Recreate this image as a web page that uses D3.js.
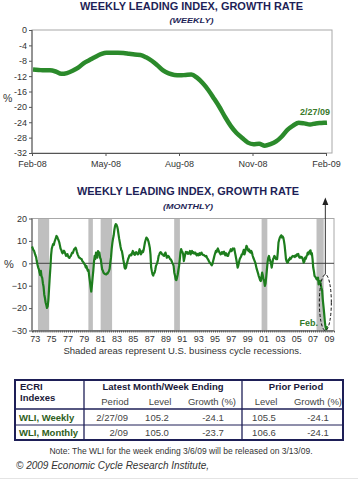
<!DOCTYPE html>
<html><head><meta charset="utf-8">
<script src="https://cdn.jsdelivr.net/npm/d3@7"></script>
<style>
html,body{margin:0;padding:0;background:#fff;}
svg{display:block;font-family:"Liberation Sans",Arial,sans-serif;}
</style></head>
<body>
<svg id="c" width="358" height="480"></svg>
<script>
// ---------- DATA ----------
const weeklyTickLabels = ["Feb-08","May-08","Aug-08","Nov-08","Feb-09"];
const weeklyTickIndex = [0,13,26,39,52];
const weeklyValues = [
 -10.3,-10.4,-10.5,-10.5,-10.8,-11.4,-11.2,-10.6,-9.8,-8.6,-7.8,-7.0,-6.3,
 -5.9,-5.9,-5.9,-6.0,-6.2,-6.4,-6.5,-7.1,-8.0,-9.2,-10.5,-11.3,-11.7,
 -11.8,-11.7,-11.6,-12.4,-13.8,-15.6,-17.8,-20.1,-22.7,-25.0,-26.8,-28.1,-29.3,
 -29.7,-29.6,-30.1,-29.7,-29.0,-27.7,-26.0,-24.9,-24.1,-24.3,-24.6,-24.3,-24.2,-24.1
];
const weeklyYTicks = [0,-4,-8,-12,-16,-20,-24,-28,-32];

const monthlyStart = 1973.1;
const monthlyValues = [
 7.5,6.8,5.9,5.6,4.5,3.6,2.8,1.0,-0.5,-1.8,-2.6,-4.0,           // 1973
 -5.2,-3.4,-5.8,-6.5,-8.9,-10.5,-13.9,-15.5,-17.5,-18.6,-19.9,-19.2, // 1974
 -16.5,-11.5,-6.5,-2.0,3.5,6.5,7.6,8.6,8.2,9.5,10.4,11.3,       // 1975
 12.2,11.8,11.0,10.3,9.4,8.0,6.5,6.0,4.9,4.5,5.2,5.6,           // 1976
 5.0,4.2,3.3,3.8,4.1,3.2,2.6,2.4,3.0,3.3,4.1,4.8,               // 1977
 4.6,5.5,6.3,6.5,7.0,6.2,5.0,4.0,3.3,2.6,2.5,2.2,               // 1978
 2.0,1.8,1.0,0.6,0.2,-0.4,-0.8,-1.9,-1.2,-2.5,-3.4,-3.0,        // 1979
 -5.7,-8.0,-10.5,-12.6,-10.0,-6.5,-3.4,0.5,3.3,2.0,4.8,3.5,     // 1980
 2.5,5.5,4.0,4.8,2.5,1.8,-0.5,-2.7,-3.2,-4.2,-4.5,-4.8,         // 1981
 -4.9,-5.0,-4.5,-4.6,-4.0,-3.4,-2.5,0.3,2.5,6.3,9.0,11.0,       // 1982
 12.5,15.0,16.7,17.5,17.3,16.5,15.2,13.0,11.0,9.3,7.5,6.0,      // 1983
 5.5,3.8,1.8,0.2,-1.9,-2.4,-2.0,-0.4,0.5,1.8,2.5,3.5,           // 1984
 3.5,4.0,3.6,4.5,5.5,4.8,4.0,3.8,4.8,5.0,4.4,4.0,               // 1985
 4.0,5.2,6.3,5.0,4.0,4.6,5.5,5.0,6.0,7.8,9.5,10.5,              // 1986
 11.5,11.2,10.7,9.8,8.5,7.0,4.0,-1.9,-3.5,-4.9,-5.5,-4.5,       // 1987
 -4.2,-3.0,-1.2,-0.5,0.3,1.5,3.3,4.0,4.8,5.0,4.6,4.0,           // 1988
 4.0,3.5,3.3,4.2,4.8,3.8,2.5,2.8,3.3,3.0,2.4,1.8,               // 1989
 1.8,1.0,0.3,-0.3,-1.2,-4.2,-5.5,-7.2,-7.5,-6.4,-5.0,-3.0,      // 1990
 -1.2,1.5,4.8,6.3,5.5,5.0,4.0,1.0,2.5,4.0,5.1,4.5,              // 1991
 5.0,4.2,4.8,4.5,5.5,4.0,5.0,5.5,4.6,5.0,4.3,4.8,               // 1992
 4.8,4.0,3.5,4.2,4.0,3.6,4.5,3.8,4.5,4.8,4.0,3.8,               // 1993
 3.8,3.5,3.3,3.0,3.3,2.5,2.0,1.5,0.8,0.3,0.0,-0.5,              // 1994
 -0.9,-0.3,1.0,2.2,3.5,4.5,5.5,5.0,6.0,6.6,5.8,5.0,             // 1995
 4.5,4.0,4.2,5.0,4.3,4.8,5.2,4.0,3.6,4.5,3.8,3.3,               // 1996
 3.3,4.5,5.0,5.6,6.3,5.4,6.0,6.6,6.2,6.6,5.0,3.5,               // 1997
 1.8,0.0,-1.9,-1.0,0.5,1.8,2.5,3.0,4.0,4.0,5.0,6.0,             // 1998
 4.0,5.0,6.5,7.8,7.2,6.0,5.5,6.2,5.0,4.8,5.5,4.8,               // 1999
 3.5,2.5,1.8,1.0,0.2,-1.2,-2.5,-3.5,-4.5,-5.7,-6.5,-7.5,        // 2000
 -7.9,-6.0,-4.2,-5.5,-7.2,-8.0,-10.1,-9.0,-6.0,-2.7,0.5,2.5,    // 2001
 3.3,2.0,1.0,0.0,-1.9,0.0,1.8,2.5,3.3,2.8,2.0,1.8,              // 2002
 1.8,5.0,9.3,10.5,11.5,12.0,12.5,11.5,12.0,11.5,10.0,8.0,       // 2003
 5.0,1.8,0.8,0.3,0.5,1.8,1.5,2.5,2.0,2.5,3.0,3.3,               // 2004
 3.0,3.3,2.8,3.5,3.2,4.0,3.5,4.2,3.0,2.5,3.0,2.5,               // 2005
 2.8,2.5,1.5,0.3,0.8,2.5,2.0,3.0,3.8,4.8,4.0,5.0,               // 2006
 5.5,5.8,4.0,4.5,2.0,-1.9,-3.5,-5.7,-6.0,-6.5,-7.2,-6.8,        // 2007
 -6.4,-9.4,-8.0,-7.9,-9.5,-10.9,-12.0,-16.1,-19.0,-22.1,-25.8,-28.5, // 2008
 -29.5,-28.0                                                    // 2009
];
const monthlyYTicks = [20,10,0,-10,-20,-30];
const yearLabels = ["73","75","77","79","81","83","85","87","89","91","93","95","97","99","01","03","05","07","09"];
const yearLabelYears = [1973,1975,1977,1979,1981,1983,1985,1987,1989,1991,1993,1995,1997,1999,2001,2003,2005,2007,2009];
const recessions = [[1973.83,1975.2],[1980.0,1980.55],[1981.5,1982.9],[1990.5,1991.2],[2001.2,2001.9],[2007.92,2008.8]];

const tableGroups = ["Latest Month/Week Ending","Prior Period"];
const tableSubHeads = ["Period","Level","Growth (%)","Level","Growth (%)"];
const tableRowNames = ["WLI, Weekly","WLI, Monthly"];
const tableRows = [
  ["2/27/09","105.2","-24.1","105.5","-24.1"],
  ["2/09","105.0","-23.7","106.6","-24.1"]
];

// ---------- DRAW ----------
const svg = d3.select("#c");
const navy = "#1e1f57";
const green1 = "#2b8a2b";
const green2 = "#1d7d1d";
const txt = "#333";

function title(y, t, sub, ys, cx, w, sw){
  svg.append("text").attr("x",cx).attr("y",y).attr("text-anchor","middle")
    .attr("font-size",10.5).attr("font-weight","bold").attr("fill",navy)
    .attr("textLength",w).attr("lengthAdjust","spacingAndGlyphs").text(t);
  svg.append("text").attr("x",cx).attr("y",ys).attr("text-anchor","middle")
    .attr("font-size",8).attr("font-weight","bold").attr("font-style","italic").attr("fill",navy)
    .attr("textLength",sw).attr("lengthAdjust","spacingAndGlyphs").text(sub);
}

// Top chart
title(9.5,"WEEKLY LEADING INDEX, GROWTH RATE","(WEEKLY)",22.5,191.5,223,44);
const x1 = d3.scaleLinear().domain([0,52]).range([32,326]);
const y1 = d3.scaleLinear().domain([-32,0]).range([153,30]);
const g1 = svg.append("g");
g1.append("rect").attr("x",32).attr("y",30).attr("width",300).attr("height",123)
  .attr("fill","none").attr("stroke","#a8a8a8").attr("stroke-width",1);
const ya1 = g1.append("g").attr("transform","translate(32,0)")
  .call(d3.axisLeft(y1).tickValues(weeklyYTicks).tickSize(3).tickPadding(2).tickFormat(d=>d===0?"0":"-"+Math.abs(d)));
const xa1 = g1.append("g").attr("transform","translate(0,153)")
  .call(d3.axisBottom(x1).tickValues(weeklyTickIndex).tickSize(3).tickPadding(5).tickFormat((d,i)=>weeklyTickLabels[i]));
[ya1,xa1].forEach(a=>{
  a.select(".domain").attr("stroke","#555");
  a.selectAll(".tick line").attr("stroke","#555");
  a.selectAll("text").attr("font-size",9).attr("fill",txt).attr("font-family","Liberation Sans, Arial, sans-serif");
});
ya1.selectAll(".domain").attr("d","M0,30V153");
g1.append("text").attr("x",3).attr("y",102).attr("font-size",10.5).attr("fill",txt).text("%");
g1.append("path").datum(weeklyValues)
  .attr("d",d3.line().x((d,i)=>x1(i)+1).y(d=>y1(d)).curve(d3.curveMonotoneX))
  .attr("fill","none").attr("stroke",green1).attr("stroke-width",4.5).attr("stroke-linejoin","round");
g1.append("text").attr("x",330).attr("y",115).attr("text-anchor","end").attr("font-size",9)
  .attr("font-weight","bold").attr("fill","#3a7a2a").text("2/27/09");

// Bottom chart
title(195,"WEEKLY LEADING INDEX, GROWTH RATE","(MONTHLY)",208.5,188,222,50);
const x2 = d3.scaleLinear().domain([monthlyStart,2010.06]).range([32,334]);
const y2 = d3.scaleLinear().domain([-30,20]).range([330.5,218.5]);
const g2 = svg.append("g");
g2.selectAll("rect.rec").data(recessions).enter().append("rect")
  .attr("x",d=>x2(d[0])).attr("width",d=>x2(d[1])-x2(d[0]))
  .attr("y",y2(20)).attr("height",y2(-30)-y2(20)).attr("fill","#bfbfbf");
g2.append("rect").attr("x",32).attr("y",218.5).attr("width",302).attr("height",112)
  .attr("fill","none").attr("stroke","#a8a8a8");
g2.append("line").attr("x1",32).attr("x2",334).attr("y1",y2(0)).attr("y2",y2(0))
  .attr("stroke","#444").attr("stroke-width",1);
const ya2 = g2.append("g").attr("transform","translate(32,0)")
  .call(d3.axisLeft(y2).tickValues(monthlyYTicks).tickSize(3).tickPadding(2));
const minor = d3.range(1973.25,2010,0.25);
const xa2 = g2.append("g").attr("transform","translate(0,330.5)")
  .call(d3.axisBottom(x2).tickValues(minor).tickSize(2).tickFormat(""));
[ya2,xa2].forEach(a=>{
  a.select(".domain").attr("stroke","#555");
  a.selectAll(".tick line").attr("stroke","#555");
  a.selectAll("text").attr("font-size",9).attr("fill",txt).attr("font-family","Liberation Sans, Arial, sans-serif");
});
ya2.selectAll(".domain").attr("d","M0,218.5V330.5");
g2.selectAll("text.yl").data(yearLabels).enter().append("text")
  .attr("x",(d,i)=>x2(yearLabelYears[i]+0.5)).attr("y",342).attr("text-anchor","middle")
  .attr("font-size",9).attr("fill",txt).text(d=>d);
g2.append("text").attr("x",4).attr("y",268).attr("font-size",11).attr("fill",txt).text("%");
g2.append("path").datum(monthlyValues)
  .attr("d",d3.line().x((d,i)=>x2(monthlyStart+i/12)).y(d=>y2(d)))
  .attr("fill","none").attr("stroke",green2).attr("stroke-width",2.2).attr("stroke-linejoin","round");
g2.append("text").attr("x",318).attr("y",326).attr("text-anchor","end").attr("font-size",9)
  .attr("font-weight","bold").attr("fill","#2f7a2a").text("Feb.");
// ellipse + arrow
const ex = x2(2009.0);
g2.append("ellipse").attr("cx",ex).attr("cy",y2(-17.5)).attr("rx",6).attr("ry",28)
  .attr("fill","none").attr("stroke","#111").attr("stroke-width",1).attr("stroke-dasharray","3,2");
g2.append("line").attr("x1",ex).attr("x2",ex).attr("y1",203).attr("y2",y2(-17.5)-28)
  .attr("stroke","#333").attr("stroke-width",1);
g2.append("path").attr("d",`M${ex},197.5L${ex-3},205L${ex+3},205Z`).attr("fill","#222");
svg.append("text").attr("x",182.5).attr("y",353.5).attr("text-anchor","middle")
  .attr("font-size",9.5).attr("fill",txt).text("Shaded areas represent U.S. business cycle recessions.");

// Table
const T = svg.append("g");
const tx0=15, tx1=343, ty0=380, ty1=440, c1=84, c2=242, r1=409, r2=425;
T.append("rect").attr("x",tx0).attr("y",ty0).attr("width",tx1-tx0).attr("height",ty1-ty0)
  .attr("fill","#fff").attr("stroke",navy).attr("stroke-width",2);
T.append("line").attr("x1",c1).attr("x2",c1).attr("y1",ty0).attr("y2",ty1).attr("stroke",navy).attr("stroke-width",1.3);
T.append("line").attr("x1",c2).attr("x2",c2).attr("y1",ty0).attr("y2",ty1).attr("stroke",navy).attr("stroke-width",1.3);
T.append("line").attr("x1",tx0).attr("x2",tx1).attr("y1",r1).attr("y2",r1).attr("stroke",navy).attr("stroke-width",1.3);
T.append("line").attr("x1",tx0).attr("x2",tx1).attr("y1",r2).attr("y2",r2).attr("stroke",navy).attr("stroke-width",1);
T.append("text").attr("x",20).attr("y",390).attr("font-size",9.5).attr("font-weight","bold").attr("fill","#1a1a3a").text("ECRI");
T.append("text").attr("x",20).attr("y",401).attr("font-size",9.5).attr("font-weight","bold").attr("fill","#1a1a3a").text("Indexes");
const gx = [163,296];
T.selectAll("text.gh").data(tableGroups).enter().append("text")
  .attr("x",(d,i)=>gx[i]).attr("y",390).attr("text-anchor","middle").attr("font-size",9.5)
  .attr("font-weight","bold").attr("fill","#1a1a3a").text(d=>d);
const sx = [115,160,212,266,318];
T.selectAll("text.sh").data(tableSubHeads).enter().append("text")
  .attr("x",(d,i)=>sx[i]).attr("y",405).attr("text-anchor","middle").attr("font-size",9.5)
  .attr("fill","#444").text(d=>d);
const ry = [420.5,436];
T.selectAll("text.rn").data(tableRowNames).enter().append("text")
  .attr("x",19).attr("y",(d,i)=>ry[i]).attr("font-size",9.5).attr("font-weight","bold")
  .attr("fill","#2e5e20").text(d=>d);
const dx = [128,157,213,264,318];
tableRows.forEach((row,ri)=>{
  row.forEach((v,ci)=>{
    T.append("text").attr("x",dx[ci]).attr("y",ry[ri]).attr("text-anchor",ci===0?"end":"middle")
      .attr("font-size",9.5).attr("fill","#444").text(v);
  });
});
svg.append("text").attr("x",181).attr("y",453.5).attr("text-anchor","middle").attr("font-size",8.5)
  .attr("fill",txt).text("Note: The WLI for the week ending 3/6/09 will be released on 3/13/09.");
svg.append("text").attr("x",16).attr("y",468.5).attr("font-size",10).attr("font-style","italic")
  .attr("fill",txt).text("© 2009 Economic Cycle Research Institute,");
svg.append("line").attr("x1",0).attr("x2",358).attr("y1",478.5).attr("y2",478.5).attr("stroke","#e4e4e4");
</script>
</body></html>
